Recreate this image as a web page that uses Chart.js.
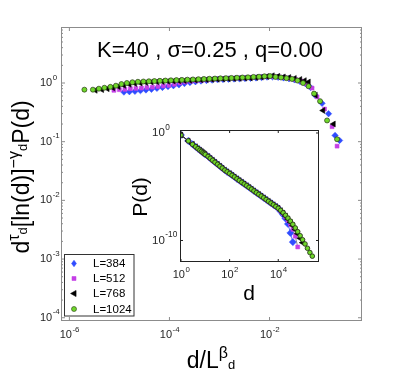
<!DOCTYPE html>
<html lang="en">
<head>
    <meta charset="UTF-8">
    <title>K=40, sigma=0.25, q=0.00 scaling collapse</title>
    <script src="https://cdn.jsdelivr.net/npm/chart.js"></script>
    <style>
        html, body { margin: 0; padding: 0; background: #fff; }
        #wrap { position: relative; width: 399px; height: 374px; }
        #mainChart { position: absolute; left: 0; top: 0; }
        #insetChart { position: absolute; left: 125px; top: 115px; }
    </style>
</head>
<body>
<div id="wrap">
    <canvas id="mainChart" width="399" height="374"></canvas>
    <canvas id="insetChart" width="210" height="195"></canvas>
</div>
<script>
    // series names
    const seriesLabels = ['L=384', 'L=512', 'L=768', 'L=1024'];

    // main plot: x stored as log10(d/L^beta), y = d^tau [ln d]^-gamma P(d)
    const mainLogX384 = [-4.91,-4.80,-4.69,-4.58,-4.47,-4.36,-4.25,-4.14,-4.03,-3.92,-3.81,-3.70,-3.59,-3.48,-3.37,-3.26,-3.15,-3.04,-2.93,-2.82,-2.71,-2.60,-2.49,-2.38,-2.27,-2.16,-2.05,-1.94,-1.83,-1.72,-1.61,-1.50,-1.39,-1.28,-1.18,-1.09,-0.95,-0.82,-0.69,-0.60];
    const mainY384 = [0.70,0.71,0.72,0.74,0.76,0.78,0.81,0.84,0.87,0.90,0.93,0.98,1.02,1.05,1.08,1.10,1.12,1.14,1.15,1.16,1.17,1.18,1.19,1.20,1.22,1.24,1.26,1.27,1.25,1.22,1.18,1.13,1.06,0.97,0.84,0.62,0.45,0.30,0.128,0.105];

    const mainLogX512 = [-5.11,-5.00,-4.89,-4.78,-4.67,-4.56,-4.45,-4.34,-4.23,-4.12,-4.01,-3.90,-3.79,-3.68,-3.57,-3.46,-3.35,-3.24,-3.13,-3.02,-2.91,-2.80,-2.69,-2.58,-2.47,-2.36,-2.25,-2.14,-2.03,-1.92,-1.81,-1.70,-1.59,-1.48,-1.37,-1.26,-1.15,-1.05,-0.90,-0.75,-0.65];
    const mainY512 = [0.75,0.77,0.78,0.80,0.81,0.82,0.84,0.85,0.87,0.89,0.91,0.95,1.00,1.04,1.07,1.09,1.11,1.13,1.15,1.17,1.18,1.19,1.20,1.21,1.22,1.23,1.25,1.27,1.28,1.29,1.27,1.24,1.20,1.15,1.08,0.97,0.82,0.58,0.36,0.18,0.084];

    const mainLogX768 = [-5.48,-5.35,-5.24,-5.13,-5.02,-4.91,-4.80,-4.69,-4.58,-4.47,-4.36,-4.25,-4.14,-4.03,-3.92,-3.81,-3.70,-3.59,-3.48,-3.37,-3.26,-3.15,-3.04,-2.93,-2.82,-2.71,-2.60,-2.49,-2.38,-2.27,-2.16,-2.05,-1.94,-1.83,-1.72,-1.61,-1.50,-1.39,-1.30,-1.22,-1.08,-0.93,-0.72];
    const mainY768 = [0.75,0.77,0.80,0.83,0.87,0.91,0.95,0.98,1.00,1.02,1.04,1.05,1.06,1.07,1.08,1.09,1.10,1.11,1.12,1.13,1.14,1.15,1.16,1.17,1.18,1.19,1.20,1.21,1.22,1.24,1.26,1.29,1.33,1.30,1.27,1.24,1.20,1.15,1.10,1.04,0.62,0.34,0.20];

    const mainLogX1024 = [-5.70,-5.53,-5.41,-5.30,-5.18,-5.07,-4.96,-4.85,-4.74,-4.63,-4.52,-4.41,-4.30,-4.19,-4.08,-3.97,-3.86,-3.75,-3.64,-3.53,-3.42,-3.31,-3.20,-3.09,-2.98,-2.87,-2.76,-2.65,-2.54,-2.43,-2.32,-2.21,-2.10,-1.99,-1.88,-1.77,-1.66,-1.55,-1.44,-1.33,-1.22,-1.11,-0.99,-0.85,-0.65];
    const mainY1024 = [0.77,0.77,0.80,0.83,0.86,0.90,0.96,1.00,1.03,1.05,1.06,1.07,1.08,1.09,1.10,1.11,1.12,1.13,1.14,1.15,1.16,1.17,1.18,1.19,1.20,1.21,1.22,1.23,1.24,1.25,1.27,1.28,1.30,1.31,1.27,1.24,1.21,1.17,1.10,1.00,0.88,0.66,0.49,0.23,0.11];

    // inset: P(d) against d (same small-d part for every L, then the tails split)
    const insetD = [1,2,3,4,5,6,7,8,9,10,13,16,20,25,32,40,50,63,79,100,126,158,200,251,316,398,501,631,794,1000,1259,1585,1995,2512,3162,3981,5012,6310,7943,10000,12589,15849,19953,25119,31623,39811,50119,63096,79433,100000,125893,158489,199526,251189];
    const insetHead = [0.65,0.184,0.0885,0.0525,0.035,0.0252,0.019,0.015,0.0121,0.01,6.6e-3,4.4e-3,2.9e-3,1.9e-3,1.23e-3,8.1e-4,5.4e-4,3.5e-4,2.45e-4,1.7e-4,1.17e-4,8.1e-5,5.5e-5,3.8e-5,2.6e-5,1.82e-5,1.26e-5,8.7e-6,6.0e-6,4.1e-6,2.8e-6,1.95e-6,1.35e-6,9.3e-7,6.4e-7,4.4e-7,3.0e-7,2.1e-7,1.45e-7,1.0e-7];
    const insetTail384 = [5.0e-8,2.5e-8,1.1e-8,3.5e-9,5.0e-10,7.1e-11];
    const insetTail512 = [5.6e-8,3.2e-8,1.6e-8,7.4e-9,3.2e-9,1.1e-9,2.5e-10,2.5e-11];
    const insetTail768 = [6.0e-8,3.5e-8,1.9e-8,1.0e-8,5.0e-9,2.4e-9,1.05e-9,4.3e-10,1.6e-10,6.3e-11];
    const insetTail1024 = [6.3e-8,3.8e-8,2.2e-8,1.2e-8,6.3e-9,3.2e-9,1.48e-9,6.6e-10,2.8e-10,1.17e-10,4.8e-11,1.9e-11,7.6e-12,3.5e-12];

    // tick labels (powers of ten)
    const mainXTickExps = [-6, -4, -2];
    const mainYTickExps = [0, -1, -2, -3, -4];
    const insetXTickExps = [0, 2, 4];
    const insetYTickExps = [0, -10];

    const FONT = '"Liberation Sans", Arial, sans-serif';

    const looks = [
        { fill: '#2f4cff', edge: '#2f4cff', line: '#2f4cff', shape: 'rectRot', r: 3.2, rot: 0 },
        { fill: '#c43fe6', edge: '#c43fe6', line: '#777777', shape: 'rect', r: 2.8, rot: 0 },
        { fill: '#000000', edge: '#000000', line: '#000000', shape: 'triangle', r: 3.4, rot: -90 },
        { fill: '#6fd72a', edge: '#2a3a1a', line: '#333333', shape: 'circle', r: 2.5, rot: 0 }
    ];

    function pts(logXs, ys) {
        return logXs.map((lx, i) => ({ x: Math.pow(10, lx), y: ys[i] }));
    }
    function insetPts(tail) {
        const n = insetHead.length + tail.length;
        return insetD.slice(0, n).map((d, i) => ({ x: d, y: i < insetHead.length ? insetHead[i] : tail[i - insetHead.length] }));
    }

    function makeSet(i, data, inset) {
        const lk = looks[i];
        return {
            label: seriesLabels[i],
            data: data,
            order: 3 - i,
            showLine: inset,
            borderColor: lk.line,
            borderWidth: 0.8,
            pointStyle: lk.shape,
            pointRadius: inset ? (i === 0 ? 3.6 : (i === 3 ? 2.3 : lk.r)) : lk.r,
            pointRotation: lk.rot,
            pointBackgroundColor: lk.fill,
            pointBorderColor: lk.edge,
            pointBorderWidth: i === 3 ? (inset ? 0.9 : 0.7) : 0.5
        };
    }

    function powLabel(ctx, exp, x, y, align, size) {
        const sup = String(exp);
        ctx.font = size + 'px ' + FONT;
        const wb = ctx.measureText('10').width;
        ctx.font = (size * 0.72) + 'px ' + FONT;
        const ws = ctx.measureText(sup).width;
        const x0 = align === 'center' ? x - (wb + ws) / 2 : x;
        ctx.textAlign = 'left';
        ctx.textBaseline = 'middle';
        ctx.font = size + 'px ' + FONT;
        ctx.fillText('10', x0, y);
        ctx.font = (size * 0.72) + 'px ' + FONT;
        ctx.fillText(sup, x0 + wb + 0.5, y - size * 0.5);
    }

    // pieces: [text, size, dy]
    function richText(ctx, pieces, x, y) {
        let total = 0;
        pieces.forEach(p => { ctx.font = p[1] + 'px ' + FONT; total += ctx.measureText(p[0]).width; });
        let cx = x - total / 2;
        ctx.textAlign = 'left';
        ctx.textBaseline = 'alphabetic';
        pieces.forEach(p => {
            ctx.font = p[1] + 'px ' + FONT;
            ctx.fillText(p[0], cx, y + p[2]);
            cx += ctx.measureText(p[0]).width;
        });
    }

    function marker(ctx, lk, x, y) {
        ctx.fillStyle = lk.fill;
        ctx.strokeStyle = lk.edge;
        ctx.lineWidth = 0.6;
        ctx.beginPath();
        if (lk.shape === 'circle') {
            ctx.arc(x, y, lk.r, 0, Math.PI * 2);
        } else if (lk.shape === 'rect') {
            const s = lk.r * Math.SQRT1_2;
            ctx.rect(x - s, y - s, 2 * s, 2 * s);
        } else if (lk.shape === 'rectRot') {
            ctx.moveTo(x, y - lk.r); ctx.lineTo(x + lk.r * 0.75, y); ctx.lineTo(x, y + lk.r); ctx.lineTo(x - lk.r * 0.75, y);
            ctx.closePath();
        } else {
            ctx.moveTo(x - lk.r, y); ctx.lineTo(x + lk.r * 0.6, y - lk.r * 0.9); ctx.lineTo(x + lk.r * 0.6, y + lk.r * 0.9);
            ctx.closePath();
        }
        ctx.fill();
        ctx.stroke();
    }

    function boxTicks(ctx, a, xs, ys, len) {
        ctx.beginPath();
        xs.forEach(px => {
            ctx.moveTo(px, a.bottom); ctx.lineTo(px, a.bottom - len);
            ctx.moveTo(px, a.top); ctx.lineTo(px, a.top + len);
        });
        ys.forEach(py => {
            ctx.moveTo(a.left, py); ctx.lineTo(a.left + len, py);
            ctx.moveTo(a.right, py); ctx.lineTo(a.right - len, py);
        });
        ctx.stroke();
    }

    const mainDecor = {
        id: 'mainDecor',
        beforeDraw(chart) {
            const ctx = chart.ctx;
            ctx.save();
            ctx.fillStyle = '#fff';
            ctx.fillRect(0, 0, chart.width, chart.height);
            ctx.restore();
        },
        afterDraw(chart) {
            const { ctx, chartArea: a, scales: { x, y } } = chart;
            ctx.save();
            ctx.strokeStyle = '#8c8c8c';
            ctx.lineWidth = 1;
            ctx.strokeRect(a.left + 0.5, a.top + 0.5, a.right - a.left - 1, a.bottom - a.top - 1);

            const majX = mainXTickExps.map(e => x.getPixelForValue(Math.pow(10, e)));
            const majY = mainYTickExps.map(e => y.getPixelForValue(Math.pow(10, e)));
            boxTicks(ctx, a, majX, majY, 4);
            const minY = [];
            for (let e = -5; e <= 0; e++) {
                for (let m = 2; m <= 9; m++) {
                    const v = m * Math.pow(10, e);
                    if (v > y.min && v < y.max) minY.push(y.getPixelForValue(v));
                }
            }
            boxTicks(ctx, a, [], minY, 2);

            ctx.fillStyle = '#262626';
            mainXTickExps.forEach((e, i) => powLabel(ctx, e, majX[i], 335, 'center', 11));
            mainYTickExps.forEach((e, i) => powLabel(ctx, e, 40, majY[i], 'left', 11));

            // title
            ctx.fillStyle = '#000';
            ctx.font = '22px ' + FONT;
            ctx.textAlign = 'center';
            ctx.textBaseline = 'alphabetic';
            ctx.fillText('K=40 , \u03c3=0.25 , q=0.00', 210, 57);

            // x title
            richText(ctx, [['d/L', 23, 0], ['\u03b2', 16, -10], ['d', 13, 1]], 211, 368);

            // y title
            ctx.save();
            ctx.translate(29, 177);
            ctx.rotate(-Math.PI / 2);
            richText(ctx, [['d', 23, 0], ['\u03c4', 16, -10], ['d', 13, -2], ['[ln(d)]', 23, 0],
                ['\u2212\u03b3', 16, -10], ['d', 13, -2], ['P(d)', 23, 0]], 0, 0);
            ctx.restore();

            // legend box
            ctx.fillStyle = '#fff';
            ctx.fillRect(64.5, 254.5, 69.5, 61.5);
            ctx.strokeStyle = '#333';
            ctx.strokeRect(64.5, 254.5, 69.5, 61.5);
            const rows = [263.5, 278.5, 293.5, 309];
            seriesLabels.forEach((lab, i) => {
                marker(ctx, looks[i], 74, rows[i]);
                ctx.fillStyle = '#000';
                ctx.font = '11.5px ' + FONT;
                ctx.textAlign = 'left';
                ctx.textBaseline = 'middle';
                ctx.fillText(lab, 93, rows[i] + 0.5);
            });
            ctx.restore();
        }
    };

    const insetDecor = {
        id: 'insetDecor',
        beforeDatasetsDraw(chart) {
            const { ctx, chartArea: a } = chart;
            ctx.save();
            ctx.fillStyle = '#fff';
            ctx.fillRect(a.left, a.top, a.right - a.left, a.bottom - a.top);
            ctx.restore();
        },
        afterDraw(chart) {
            const { ctx, chartArea: a, scales: { x, y } } = chart;
            ctx.save();
            ctx.strokeStyle = '#222';
            ctx.lineWidth = 1;
            ctx.strokeRect(a.left + 0.5, a.top + 0.5, a.right - a.left - 1, a.bottom - a.top - 1);
            const majX = insetXTickExps.map(e => x.getPixelForValue(Math.pow(10, e)));
            const majY = insetYTickExps.map(e => y.getPixelForValue(Math.pow(10, e)));
            boxTicks(ctx, a, majX, majY, 3);

            ctx.fillStyle = '#262626';
            insetXTickExps.forEach((e, i) => powLabel(ctx, e, majX[i], 160, 'center', 11));
            insetYTickExps.forEach((e, i) => powLabel(ctx, e, 27, majY[i], 'left', 11.5));

            ctx.fillStyle = '#000';
            richText(ctx, [['d', 21, 0]], 124, 185);
            ctx.save();
            ctx.translate(21.5, 82);
            ctx.rotate(-Math.PI / 2);
            richText(ctx, [['P(d)', 21, 0]], 0, 0);
            ctx.restore();
            ctx.restore();
        }
    };

    const mainSets = [
        makeSet(0, pts(mainLogX384, mainY384), false),
        makeSet(1, pts(mainLogX512, mainY512), false),
        makeSet(2, pts(mainLogX768, mainY768), false),
        makeSet(3, pts(mainLogX1024, mainY1024), false)
    ];

    new Chart(document.getElementById('mainChart'), {
        type: 'scatter',
        data: { datasets: mainSets },
        options: {
            responsive: false,
            animation: false,
            events: [],
            layout: { padding: { left: 61, right: 37, top: 27, bottom: 53 } },
            plugins: { legend: { display: false }, tooltip: { enabled: false } },
            scales: {
                x: { type: 'logarithmic', display: false, min: 6.8e-7, max: 0.705 },
                y: { type: 'logarithmic', display: false, min: 8.8e-5, max: 9.0 }
            }
        },
        plugins: [mainDecor]
    });

    const insetSets = [
        makeSet(0, insetPts(insetTail384), true),
        makeSet(1, insetPts(insetTail512), true),
        makeSet(2, insetPts(insetTail768), true),
        makeSet(3, insetPts(insetTail1024), true)
    ];

    new Chart(document.getElementById('insetChart'), {
        type: 'scatter',
        data: { datasets: insetSets },
        options: {
            responsive: false,
            animation: false,
            events: [],
            layout: { padding: { left: 55, right: 16, top: 15, bottom: 48 } },
            plugins: { legend: { display: false }, tooltip: { enabled: false } },
            scales: {
                x: { type: 'logarithmic', display: false, min: 0.912, max: 473000 },
                y: { type: 'logarithmic', display: false, min: 1e-12, max: 1.9 }
            }
        },
        plugins: [insetDecor]
    });
</script>
</body>
</html>
